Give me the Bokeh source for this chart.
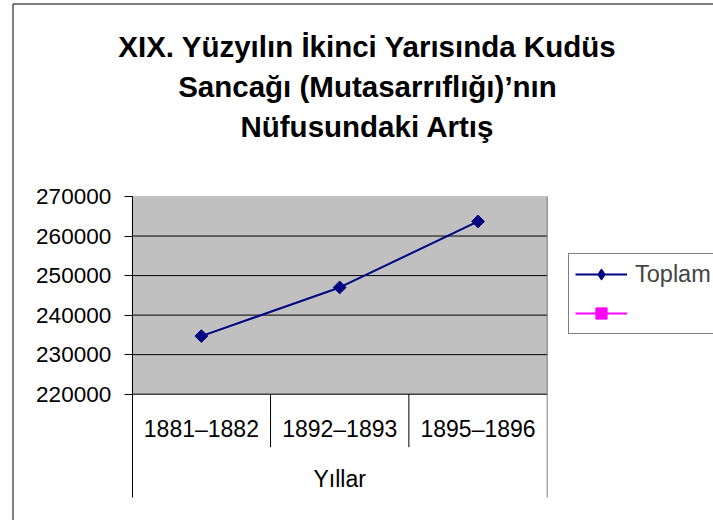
from bokeh.plotting import figure
from bokeh.models import (Range1d, FixedTicker, BasicTickFormatter, BoxAnnotation,
                          Label, Legend, LegendItem, ColumnDataSource)
from bokeh.core.properties import value
from bokeh.embed import file_html
from bokeh.resources import INLINE
import numpy as np
import math

# ---- data ----
title_lines = ["XIX. Yüzyılın İkinci Yarısında Kudüs",
               "Sancağı (Mutasarrıflığı)’nın",
               "Nüfusundaki Artış"]
categories = ["1881–1882", "1892–1893", "1895–1896"]
toplam = [234700, 247000, 263700]
second_series = [None, None, None]     # unnamed (magenta) series: no values
y_ticks = [220000, 230000, 240000, 250000, 260000, 270000]
axis_title = "Yıllar"
series_name = "Toplam"

# ---- geometry (page pixels) ----
W, H = 713, 520
FONT = "Liberation Sans"
PL, PR, PT, PB = 131.7, 546.7, 196.0, 393.7      # gray plot area edges
n = len(categories)
ux = (PR - PL) / n                                # px per category
uy = (PB - PT) / (y_ticks[-1] - y_ticks[0])       # px per value unit
x_start, x_end = -PL / ux, n + (W - PR) / ux
y_end = y_ticks[-1] + PT / uy
y_start = y_ticks[0] - (H - PB) / uy


def yval(py):
    """value on the y scale that sits at page pixel row py"""
    return y_ticks[0] - (py - PB) / uy


p = figure(width=W, height=H, title=None,
           x_range=Range1d(x_start, x_end), y_range=Range1d(y_start, y_end),
           x_axis_location=None, y_axis_location="left",
           output_backend="svg", toolbar_location=None, min_border=0,
           background_fill_color="white", border_fill_color="white", outline_line_color=None)
p.extra_x_ranges = {"px": Range1d(0, W)}
p.extra_y_ranges = {"px": Range1d(H, 0)}
p.grid.visible = False

# y axis drawn at the left edge of the plot area
yax = p.yaxis[0]
yax.fixed_location = 0
yax.bounds = (yval(497), y_ticks[-1])
yax.ticker = FixedTicker(ticks=y_ticks, minor_ticks=[])
yax.formatter = BasicTickFormatter(use_scientific=False)
yax.major_tick_out = 8
yax.major_tick_in = 0
yax.minor_tick_out = 0
yax.minor_tick_in = 0
yax.major_tick_line_color = "black"
yax.axis_line_color = "black"
yax.major_label_text_font = FONT
yax.major_label_text_font_size = "22.5px"
yax.major_label_text_color = "black"
yax.major_label_standoff = 13

# outer chart-area border
p.segment(x0=12.5, x1=12.5, y0=3.5, y1=H, x_range_name="px", y_range_name="px", line_color="black", line_width=1)
p.segment(x0=12.5, x1=W, y0=3.5, y1=3.5, x_range_name="px", y_range_name="px", line_color="black", line_width=1)

# plot area (gray) with gridlines
p.add_layout(BoxAnnotation(left=0, right=n, bottom=y_ticks[0], top=y_ticks[-1], fill_color="#C0C0C0",
                           fill_alpha=1, line_color="#808080", line_width=1, level="image"))
inner = y_ticks[1:-1]
p.segment(x0=0, x1=n, y0=inner, y1=inner, line_color="black", line_width=1)
p.segment(x0=0, x1=n, y0=y_ticks[0], y1=y_ticks[0], line_color="black", line_width=1)
p.segment(x0=n, x1=n, y0=yval(497), y1=y_ticks[-1], line_color="#808080", line_width=1)

# category table below the plot area
sep_x = list(range(1, n))
p.segment(x0=sep_x, x1=sep_x, y0=yval(446.7), y1=y_ticks[0], line_color="black", line_width=1)
x_pos = [i + 0.5 for i in range(n)]
p.text(x=x_pos, y=yval(428.5), text=categories, text_align="center",
       text_baseline="middle", text_font=value(FONT), text_font_size="23px", text_color="black")
p.text(x=n / 2, y=yval(478.5), text=[axis_title], text_align="center",
       text_baseline="middle", text_font=value(FONT), text_font_size="23px", text_color="black")

# series
NAVY, MAGENTA = "#000080", "#FF00FF"
src = ColumnDataSource(dict(x=x_pos, y=toplam))
line_r = p.line("x", "y", source=src, line_color=NAVY, line_width=2)
mark_r = p.scatter("x", "y", source=src, marker="square", angle=math.pi / 4, size=9,
                   fill_color=NAVY, line_color=NAVY)
# legend swatch marker (same series, shown only in the legend)
leg_mark = p.scatter("x", "y", source=src, marker="diamond", fill_color=NAVY, line_color=NAVY, visible=False)

src2 = ColumnDataSource(dict(x=x_pos, y=np.array(second_series, dtype=float)))
line2 = p.line("x", "y", source=src2, line_color=MAGENTA, line_width=2)
mark2 = p.scatter("x", "y", source=src2, marker="square", size=9, fill_color=MAGENTA, line_color=MAGENTA)

legend = Legend(items=[LegendItem(label=series_name, renderers=[line_r, leg_mark]),
                       LegendItem(label="", renderers=[line2, mark2])],
                location=(568, H - 334), orientation="vertical",
                border_line_color="black", border_line_width=1,
                background_fill_color="white", background_fill_alpha=1,
                padding=6, spacing=11, glyph_width=52, glyph_height=28, label_height=28,
                label_standoff=8, label_text_font=FONT, label_text_font_size="23.5px", margin=0)
p.add_layout(legend, "center")

# title
for i, t in enumerate(title_lines):
    p.add_layout(Label(x=367, y=46 + 40 * i, x_range_name="px", y_range_name="px", text=t,
                       text_align="center", text_baseline="middle", text_font=FONT,
                       text_font_style="bold", text_font_size="29.5px", text_color="black"))

open("out.html", "w").write(file_html(p, INLINE))
